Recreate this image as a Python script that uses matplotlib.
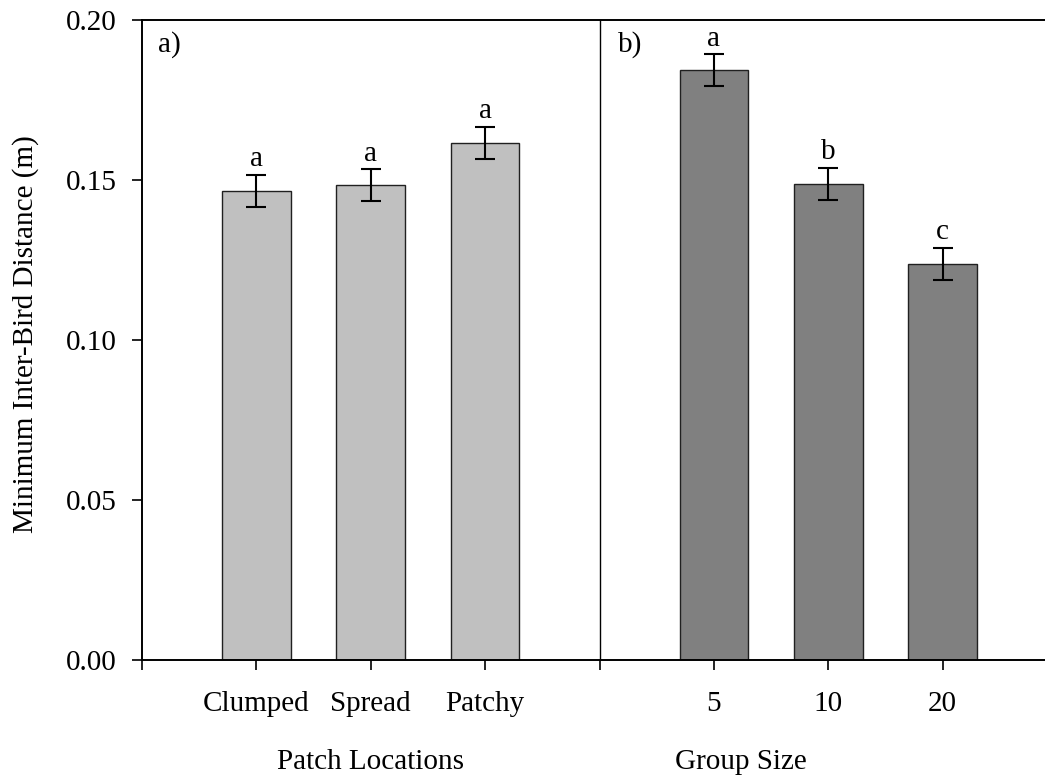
import matplotlib
matplotlib.use("Agg")
import matplotlib.pyplot as plt

plt.rcParams["font.family"] = ["Liberation Serif", "DejaVu Serif"]

# panel a: patch locations
loc_labels = ["Clumped", "Spread", "Patchy"]
loc_means = [0.1467, 0.1483, 0.1615]
loc_se = [0.0050, 0.0050, 0.0050]
loc_letters = ["a", "a", "a"]

# panel b: group size
grp_labels = ["5", "10", "20"]
grp_means = [0.1843, 0.1488, 0.1237]
grp_se = [0.0050, 0.0050, 0.0050]
grp_letters = ["a", "b", "c"]

loc_x = [1, 2, 3]
grp_x = [5, 6, 7]
FS = 21

fig = plt.figure(figsize=(10.45, 7.8), dpi=100)
ax = fig.add_axes([0.1359, 0.1538, 0.8756, 0.8205])

bw = 0.6
ax.bar(loc_x, loc_means, width=bw, color="#c0c0c0", edgecolor="#202020", linewidth=1.0, zorder=2)
ax.bar(grp_x, grp_means, width=bw, color="#808080", edgecolor="#202020", linewidth=1.0, zorder=2)
ax.errorbar(loc_x + grp_x, loc_means + grp_means, yerr=loc_se + grp_se, fmt="none",
            ecolor="black", elinewidth=1.5, capsize=7, capthick=1.5, zorder=3)

for x, m, s, t in zip(loc_x + grp_x, loc_means + grp_means, loc_se + grp_se, loc_letters + grp_letters):
    ax.annotate(t, (x, m + s), xytext=(0, 2), textcoords="offset points",
                ha="center", va="bottom", fontsize=FS)

ax.axvline(4, color="black", lw=1.0, zorder=1)
ax.text(0.14, 0.1965, "a)", fontsize=FS, va="top")
ax.text(4.16, 0.1965, "b)", fontsize=FS, va="top")

ax.set_xlim(0, 8)
ax.set_ylim(0, 0.20)
ax.set_yticks([0.0, 0.05, 0.10, 0.15, 0.20])
ax.set_yticklabels(["0.00", "0.05", "0.10", "0.15", "0.20"])
ax.set_xticks(range(0, 8))
ax.set_xticklabels([""] + loc_labels + [""] + grp_labels)
ax.tick_params(axis="both", direction="out", length=7, width=1.2, labelsize=FS)
ax.tick_params(axis="y", pad=11)
ax.tick_params(axis="x", pad=15)
ax.spines["right"].set_visible(False)
for sp in ["left", "top", "bottom"]:
    ax.spines[sp].set_linewidth(1.4)

ax.set_ylabel("Minimum Inter-Bird Distance (m)", fontsize=FS)
ax.yaxis.set_label_coords(-0.113, 0.51)
ax.text(2, -0.0318, "Patch Locations", ha="center", va="center", fontsize=FS)
ax.text(5.24, -0.0318, "Group Size", ha="center", va="center", fontsize=FS)

fig.savefig("out.png", dpi=100)
